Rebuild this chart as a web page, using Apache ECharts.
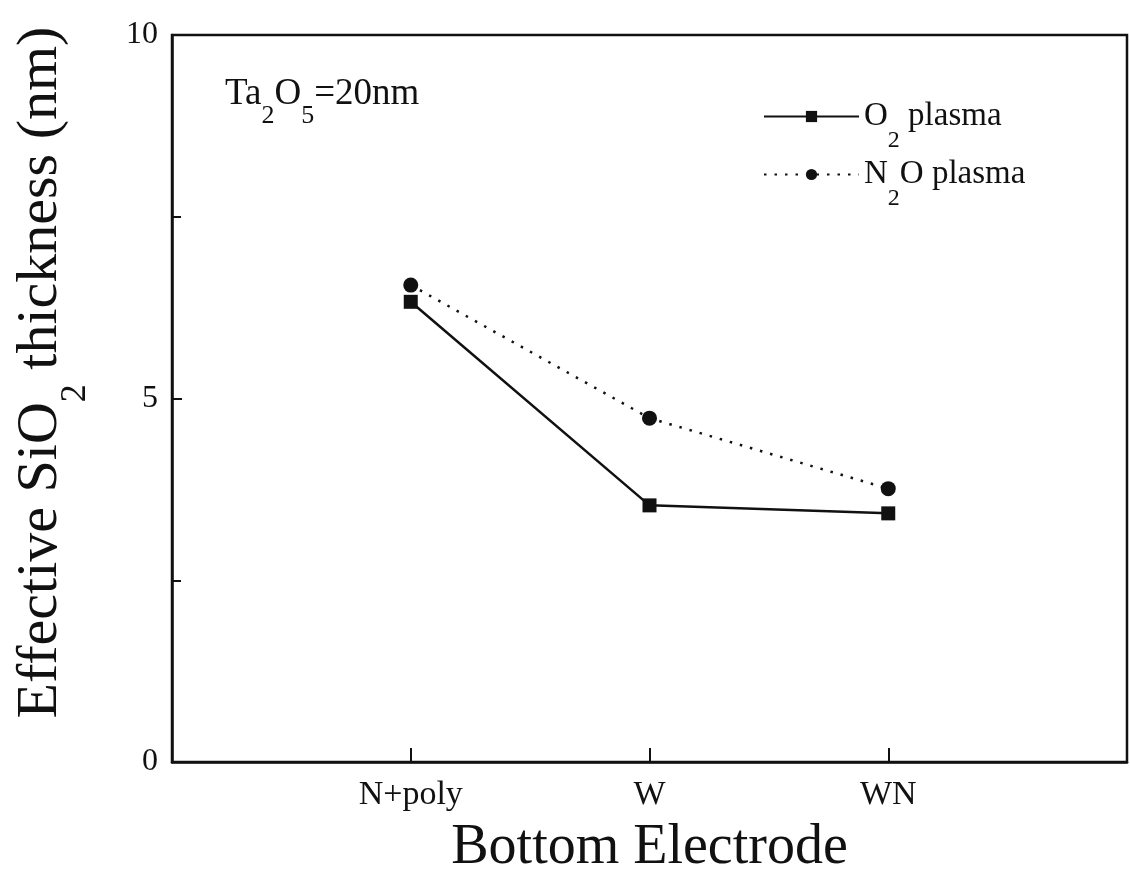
<!DOCTYPE html>
<html>
<head>
<meta charset="utf-8">
<script src="https://cdn.jsdelivr.net/npm/echarts@6/dist/echarts.min.js"></script>
<style>
  html, body { margin: 0; padding: 0; background: #fff; }
  #chart { width: 1130px; height: 874px; }
</style>
</head>
<body>
<div id="chart"></div>
<script>
// categories and measured values
var electrodes = ['N+poly', 'W', 'WN'];
var o2Plasma = [6.33, 3.53, 3.42];
var n2oPlasma = [6.56, 4.73, 3.76];
var yTicks = [0, 5, 10];

var serif = '"Liberation Serif", "Times New Roman", "DejaVu Serif", serif';
var ink = '#111';

// pad with empty slots so the axis has room on both sides
var xData = [''].concat(electrodes, ['']);
function pad(arr) { return [null].concat(arr, [null]); }

// rich styles with a dropped subscript: main text centred in the line,
// subscript pushed down with top padding
function subStyles(main, sub, drop) {
  var p = Math.round(0.64 * main + 2 * drop);
  return {
    a: { fontFamily: serif, fontSize: main, color: ink, fontWeight: 'normal', lineHeight: sub + p, verticalAlign: 'middle' },
    s: { fontFamily: serif, fontSize: sub, color: ink, fontWeight: 'normal', verticalAlign: 'top', padding: [p, 0, 0, 0] }
  };
}

var chart = echarts.init(document.getElementById('chart'));
var option = {
  animation: false,
  backgroundColor: '#fff',
  title: {
    text: '{a|Ta}{s|2}{a|O}{s|5}{a|=20nm}',
    left: 220,
    top: 54,
    textStyle: { fontWeight: 'normal', rich: subStyles(37, 26, 10) }
  },
  legend: {
    orient: 'vertical',
    left: 758,
    top: 95,
    itemWidth: 95,
    itemHeight: 14,
    itemGap: 5,
    data: ['O2 plasma', 'N2O plasma'],
    formatter: function (name) {
      return name === 'O2 plasma' ? '{a|O}{s|2}{a| plasma}' : '{a|N}{s|2}{a|O plasma}';
    },
    textStyle: { rich: subStyles(33, 24, 14) }
  },
  grid: {
    left: 172, right: 3, top: 35, bottom: 112,
    outerBoundsMode: 'none',
    show: true, borderColor: ink, borderWidth: 2.5
  },
  xAxis: {
    type: 'category',
    data: xData,
    boundaryGap: false,
    name: 'Bottom Electrode',
    nameLocation: 'middle',
    nameGap: 58,
    nameTextStyle: { fontFamily: serif, fontSize: 56, color: ink },
    axisLine: { lineStyle: { color: ink, width: 2.5 } },
    axisTick: {
      inside: true, length: 14, lineStyle: { color: ink, width: 2 },
      interval: function (i, v) { return v !== ''; }
    },
    axisLabel: { interval: 0, margin: 16, fontFamily: serif, fontSize: 34, color: ink },
    splitLine: { show: false }
  },
  yAxis: {
    type: 'value',
    min: 0, max: 10, interval: 5,
    name: '{a|Effective SiO}{s|2}{a| thickness (nm)}',
    nameLocation: 'middle',
    nameGap: 78,
    nameTextStyle: {
      padding: [0, 0, 0, 52],
      rich: subStyles(58, 36, 17)
    },
    axisLine: { show: true, lineStyle: { color: ink, width: 2.5 } },
    axisTick: { show: true, inside: true, length: 10, lineStyle: { color: ink, width: 2 } },
    minorTick: { show: true, splitNumber: 2, length: 9, lineStyle: { color: ink, width: 2 } },
    axisLabel: {
      margin: 14, fontFamily: serif, fontSize: 32, color: ink,
      formatter: function (v) { return yTicks.indexOf(v) >= 0 ? String(v) : ''; }
    },
    splitLine: { show: false }
  },
  series: [
    {
      name: 'O2 plasma',
      type: 'line',
      data: pad(o2Plasma),
      symbol: 'rect',
      symbolSize: 14,
      itemStyle: { color: ink },
      lineStyle: { color: ink, width: 2.5, type: 'solid' }
    },
    {
      name: 'N2O plasma',
      type: 'line',
      data: pad(n2oPlasma),
      symbol: 'circle',
      symbolSize: 15,
      itemStyle: { color: ink },
      lineStyle: { color: ink, width: 2.5, type: [2.5, 8] }
    }
  ]
};
chart.setOption(option);
</script>
</body>
</html>
